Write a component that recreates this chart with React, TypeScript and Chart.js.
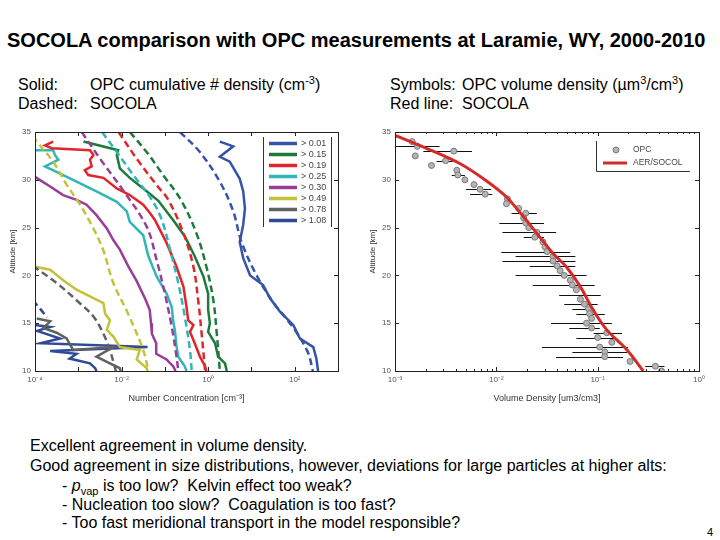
import React, { useEffect, useRef } from "react";
import { Chart, registerables } from "chart.js";

Chart.register(...registerables);

// ---------------- Left panel: number concentration (log10 of cm^-3) ----------------
const sizeLabels = ["> 0.01", "> 0.15", "> 0.19", "> 0.25", "> 0.30", "> 0.49", "> 0.78", "> 1.08"];
const sizeColors = ["#3554a5", "#1d7a3c", "#e0262a", "#33b5b8", "#983e98", "#c3c23a", "#616161", "#2f4b97"];

// OPC (solid) altitude [km] and log10(number concentration)
const opc001Alt = [34.0, 33.5, 32.4, 31.9, 30.1, 28.8, 27.0, 25.3, 23.5, 21.8, 20.0, 19.0, 17.6, 16.2, 14.8, 13.4, 12.5, 11.3, 10.0];
const opc001Log = [0.27, 0.58, 0.27, 0.5, 0.73, 0.81, 0.85, 0.81, 0.73, 0.81, 0.97, 1.27, 1.43, 1.66, 1.97, 2.12, 2.43, 2.5, 2.54];
const opc015Alt = [34.0, 33.1, 32.6, 31.2, 30.2, 28.8, 27.8, 25.8, 24.1, 22.0, 19.9, 18.1, 16.4, 15.0, 14.1, 12.9, 11.5, 10.8, 10.0];
const opc015Log = [-2.88, -2.08, -2.11, -2.04, -1.81, -1.42, -1.15, -0.81, -0.54, -0.31, -0.11, 0.0, 0.0, 0.04, 0.0, 0.16, 0.23, 0.39, 0.43];
const opc019Alt = [34.0, 33.6, 33.3, 33.1, 32.6, 32.1, 31.4, 31.0, 30.5, 30.2, 29.1, 28.4, 27.4, 26.5, 25.8, 23.4, 20.9, 18.8, 16.7, 15.3, 14.8, 14.1, 12.9, 11.5, 10.5, 10.0];
const opc019Log = [-3.58, -3.77, -3.61, -2.73, -2.65, -2.73, -2.69, -2.85, -2.77, -2.42, -2.11, -1.81, -1.5, -1.34, -1.23, -0.96, -0.73, -0.57, -0.5, -0.46, -0.34, -0.42, -0.31, -0.19, -0.07, -0.04];
const opc025Alt = [33.1, 33.1, 32.6, 32.1, 31.4, 30.9, 29.8, 28.8, 27.7, 26.7, 25.6, 24.2, 22.0, 19.9, 18.1, 16.7, 15.3, 14.3, 12.6, 11.5, 10.5, 10.0];
const opc025Log = [-4.05, -3.58, -3.54, -3.46, -3.77, -3.54, -3.04, -2.58, -2.11, -1.88, -1.81, -1.5, -1.38, -1.19, -0.96, -0.84, -0.81, -0.77, -0.73, -0.69, -0.54, -0.5];
const opc030Alt = [30.3, 29.3, 28.4, 27.9, 27.4, 26.3, 24.9, 23.7, 22.7, 21.0, 19.4, 17.5, 16.4, 15.0, 13.9, 12.9, 11.8, 11.2, 10.5, 10.0];
const opc030Log = [-4.0, -3.65, -3.35, -3.04, -2.81, -2.58, -2.34, -2.19, -2.04, -1.85, -1.65, -1.45, -1.35, -1.32, -1.3, -1.2, -1.2, -0.96, -0.81, -0.75];
const opc049Alt = [22.0, 20.9, 20.6, 19.5, 18.5, 17.8, 17.1, 16.0, 15.3, 14.3, 13.6, 12.5, 12.2, 11.2, 10.3, 10.0];
const opc049Log = [-4.02, -4.0, -3.65, -3.35, -3.04, -2.73, -2.42, -2.38, -2.27, -2.34, -2.19, -2.04, -1.58, -1.65, -1.42, -1.4];
const opc078Alt = [15.5, 15.2, 14.5, 14.0, 13.4, 12.2, 12.5, 11.5, 10.8, 10.3, 10.0];
const opc078Log = [-3.96, -3.65, -3.81, -3.5, -3.27, -3.12, -2.19, -2.58, -2.27, -2.04, -2.02];
const opc108Alt = [14.8, 14.6, 14.2, 13.4, 12.9, 12.5, 12.1, 11.8, 11.3, 10.8, 10.3, 10.0];
const opc108Log = [-4.0, -3.65, -3.95, -3.42, -3.88, -1.4, -3.65, -3.04, -3.2, -2.73, -2.61, -2.58];

// SOCOLA (dashed) altitude [km] and log10(number concentration)
const mod001Alt = [35.0, 32.9, 29.8, 26.7, 23.5, 20.0, 17.2, 14.5, 12.0, 10.0];
const mod001Log = [-0.65, -0.19, 0.27, 0.58, 0.77, 1.12, 1.5, 1.97, 2.3, 2.42];
const mod015Alt = [35.0, 32.9, 30.5, 27.9, 24.4, 20.9, 17.4, 13.9, 10.0];
const mod015Log = [-1.81, -1.42, -1.04, -0.63, -0.27, -0.04, 0.12, 0.2, 0.27];
const mod019Alt = [35.0, 32.2, 29.5, 27.9, 24.4, 20.9, 17.4, 13.9, 10.0];
const mod019Log = [-2.07, -1.65, -1.2, -0.92, -0.57, -0.34, -0.23, -0.15, -0.07];
const mod025Alt = [35.0, 32.9, 30.5, 27.9, 25.8, 22.7, 19.2, 15.7, 12.2, 10.0];
const mod025Log = [-2.45, -2.11, -1.73, -1.3, -1.07, -0.88, -0.69, -0.54, -0.42, -0.38];
const mod030Alt = [35.0, 31.9, 29.0, 25.1, 21.6, 18.1, 14.6, 11.5, 10.0];
const mod030Log = [-2.92, -2.45, -1.98, -1.42, -1.19, -1.0, -0.84, -0.73, -0.69];
const mod049Alt = [34.6, 34.0, 31.9, 29.5, 27.4, 24.9, 22.6, 19.2, 16.0, 12.2, 10.0];
const mod049Log = [-4.05, -3.96, -3.58, -3.27, -2.96, -2.65, -2.42, -2.19, -1.85, -1.5, -1.38];
const mod078Alt = [21.0, 20.7, 19.2, 17.4, 15.7, 13.9, 12.2, 10.3, 10.0];
const mod078Log = [-4.05, -3.96, -3.5, -3.04, -2.65, -2.42, -2.27, -2.15, -2.13];
const mod108Alt = [17.4, 16.5, 15.6];
const mod108Log = [-4.05, -3.88, -3.72];

const leftTickExps = [-4, -3, -2, -1, 0, 1, 2, 3];
const leftLabelExps = [-4, -2, 0, 2];

// ---------------- Right panel: volume density (log10 of um3/cm3) ----------------
const opcVolAlt = [34.0, 33.5, 33.0, 32.5, 32.0, 31.5, 31.0, 30.5, 30.0, 29.5, 29.0, 28.5, 28.0, 27.5, 27.0, 26.5, 26.0, 25.5, 25.0, 24.5, 24.0, 23.5, 23.0, 22.5, 22.0, 21.5, 21.0, 20.5, 20.0, 19.5, 19.0, 18.5, 17.5, 17.0, 16.5, 16.0, 15.5, 15.0, 14.5, 14.0, 13.5, 13.0, 12.5, 12.0, 11.5, 11.0, 10.5, 10.0];
const opcVolLog = [-2.83, -2.78, -2.42, -2.8, -2.5, -2.64, -2.39, -2.38, -2.31, -2.22, -2.16, -2.11, -1.89, -1.9, -1.78, -1.71, -1.73, -1.71, -1.68, -1.6, -1.62, -1.54, -1.52, -1.5, -1.44, -1.44, -1.4, -1.37, -1.33, -1.27, -1.25, -1.21, -1.17, -1.13, -1.09, -1.08, -1.06, -1.11, -1.06, -0.91, -1.0, -0.86, -0.98, -0.93, -0.93, -0.68, -0.43, -0.37];
const errAlt = [33.5, 33.0, 32.0, 30.5, 29.0, 28.5, 26.5, 25.5, 24.5, 24.0, 22.5, 22.0, 21.5, 21.0, 20.0, 19.0, 18.0, 17.0, 16.5, 16.0, 15.0, 14.5, 14.0, 13.5, 12.5, 12.0, 11.5, 10.5];
const errLoLog = [-3.0, -2.72, -2.59, -2.44, -2.3, -2.26, -1.85, -1.97, -1.94, -1.73, -1.95, -1.81, -1.94, -1.67, -1.81, -1.64, -1.38, -1.33, -1.25, -1.21, -1.46, -1.28, -1.04, -1.21, -1.55, -1.25, -1.41, -0.53];
const errHiLog = [-2.56, -2.24, -2.43, -2.31, -2.05, -2.04, -1.6, -1.53, -1.41, -1.53, -1.27, -1.22, -1.22, -1.22, -1.11, -1.03, -0.97, -1.0, -1.03, -0.93, -0.86, -0.98, -0.76, -0.81, -0.7, -0.71, -0.75, -0.34];
const socolVolAlt = [34.65, 33.3, 31.7, 29.9, 28.2, 26.1, 24.4, 22.3, 20.9, 18.8, 16.3, 14.3, 12.2, 10.0];
const socolVolLog = [-3.0, -2.69, -2.36, -2.1, -1.9, -1.73, -1.6, -1.44, -1.31, -1.17, -1.04, -0.91, -0.71, -0.55];

const rightTickExps = [-3, -2, -1, 0];
const altTicks = [10, 15, 20, 25, 30, 35];

const FONT = "'Liberation Sans', Arial, sans-serif";
const sup: Record<string, string> = { "-": "\u207B", "0": "\u2070", "1": "\u00B9", "2": "\u00B2", "3": "\u00B3", "4": "\u2074" };
const powLabel = (e: number) => "10" + String(e).split("").map((c) => sup[c] || c).join("");

const toPts = (alt: number[], lg: number[]) => alt.map((a, i) => ({ x: Math.pow(10, lg[i]), y: a }));

function framePlugin(tickExps: number[], minor: boolean) {
  return {
    id: "frame",
    afterDatasetsDraw(chart: any) {
      const { ctx, chartArea: a, scales } = chart;
      const xs = scales.x, ys = scales.y;
      ctx.save();
      ctx.strokeStyle = "#222";
      ctx.lineWidth = 1;
      ctx.beginPath();
      const seg = (x1: number, y1: number, x2: number, y2: number) => { ctx.moveTo(x1, y1); ctx.lineTo(x2, y2); };
      altTicks.forEach((t) => {
        const y = Math.round(ys.getPixelForValue(t)) + 0.5;
        seg(a.left, y, a.left + 4, y);
        seg(a.right, y, a.right - 4, y);
      });
      tickExps.forEach((e) => {
        const x = Math.round(xs.getPixelForValue(Math.pow(10, e))) + 0.5;
        seg(x, a.bottom, x, a.bottom - 4);
        seg(x, a.top, x, a.top + 4);
        if (minor && e < tickExps[tickExps.length - 1]) {
          for (let m = 2; m <= 9; m++) {
            const xm = Math.round(xs.getPixelForValue(m * Math.pow(10, e))) + 0.5;
            seg(xm, a.bottom, xm, a.bottom - 2);
            seg(xm, a.top, xm, a.top + 2);
          }
        }
      });
      ctx.stroke();
      ctx.strokeRect(Math.round(a.left) + 0.5, Math.round(a.top) + 0.5, Math.round(a.right - a.left), Math.round(a.bottom - a.top));
      ctx.restore();
    },
  };
}

const leftLegendPlugin = {
  id: "leftLegend",
  afterDraw(chart: any) {
    const ctx = chart.ctx;
    ctx.save();
    ctx.strokeStyle = "#333";
    ctx.lineWidth = 1;
    ctx.beginPath();
    ctx.moveTo(263.5, 17); ctx.lineTo(263.5, 107);
    ctx.moveTo(331.5, 17); ctx.lineTo(331.5, 107);
    ctx.stroke();
    ctx.font = "9px " + FONT;
    ctx.textBaseline = "middle";
    ctx.fillStyle = "#444";
    sizeLabels.forEach((lab, i) => {
      const y = 23.5 + i * 11;
      ctx.strokeStyle = sizeColors[i];
      ctx.lineWidth = 3.5;
      ctx.beginPath();
      ctx.moveTo(269, y); ctx.lineTo(297, y);
      ctx.stroke();
      ctx.fillText(lab, 301, y);
    });
    ctx.restore();
  },
};

const errorBarPlugin = {
  id: "errBars",
  beforeDatasetsDraw(chart: any) {
    const { ctx, chartArea: a, scales } = chart;
    ctx.save();
    ctx.beginPath();
    ctx.rect(a.left, a.top, a.right - a.left, a.bottom - a.top);
    ctx.clip();
    ctx.strokeStyle = "#111";
    ctx.lineWidth = 1;
    ctx.beginPath();
    errAlt.forEach((alt, i) => {
      const y = Math.round(scales.y.getPixelForValue(alt)) + 0.5;
      ctx.moveTo(scales.x.getPixelForValue(Math.pow(10, errLoLog[i])), y);
      ctx.lineTo(scales.x.getPixelForValue(Math.pow(10, errHiLog[i])), y);
    });
    ctx.stroke();
    ctx.restore();
  },
};

const rightLegendPlugin = {
  id: "rightLegend",
  afterDraw(chart: any) {
    const ctx = chart.ctx;
    ctx.save();
    ctx.strokeStyle = "#333";
    ctx.lineWidth = 1;
    ctx.beginPath();
    ctx.moveTo(236.5, 21); ctx.lineTo(236.5, 51.5); ctx.lineTo(330, 51.5);
    ctx.stroke();
    ctx.fillStyle = "#b4b4b4";
    ctx.strokeStyle = "#7a7a7a";
    ctx.beginPath();
    ctx.arc(256, 30, 3, 0, Math.PI * 2);
    ctx.fill();
    ctx.stroke();
    ctx.strokeStyle = "#d42a2a";
    ctx.lineWidth = 3;
    ctx.beginPath();
    ctx.moveTo(243, 43); ctx.lineTo(267, 43);
    ctx.stroke();
    ctx.font = "8.5px " + FONT;
    ctx.fillStyle = "#444";
    ctx.textBaseline = "middle";
    ctx.fillText("OPC", 273, 30);
    ctx.fillText("AER/SOCOL", 273, 43);
    ctx.restore();
  },
};

function baseScales(xmin: number, xmax: number, tickExps: number[], labelExps: number[], xTitle: string) {
  return {
    x: {
      type: "logarithmic" as const,
      min: xmin,
      max: xmax,
      afterBuildTicks: (s: any) => { s.ticks = tickExps.map((e) => ({ value: Math.pow(10, e) })); },
      afterFit: (s: any) => { s.height = 39; },
      grid: { display: false, drawTicks: false },
      border: { display: false },
      ticks: {
        autoSkip: false,
        maxRotation: 0,
        padding: 4,
        color: "#555",
        font: { family: FONT, size: 8 },
        callback: (v: any) => {
          const e = Math.round(Math.log10(Number(v)));
          return labelExps.includes(e) ? powLabel(e) : "";
        },
      },
      title: { display: true, text: xTitle, color: "#333", font: { family: FONT, size: 9 }, padding: { top: 0, bottom: 6 } },
    },
    y: {
      type: "linear" as const,
      min: 10,
      max: 35,
      afterBuildTicks: (s: any) => { s.ticks = altTicks.map((v) => ({ value: v })); },
      afterFit: (s: any) => { s.width = 35; },
      grid: { display: false, drawTicks: false },
      border: { display: false },
      ticks: { padding: 4, color: "#555", font: { family: FONT, size: 8 } },
      title: { display: true, text: "Altitude [km]", color: "#333", font: { family: FONT, size: 8 }, padding: { top: 8, bottom: 0 } },
    },
  };
}

function LeftChart() {
  const ref = useRef<HTMLCanvasElement>(null);
  useEffect(() => {
    const solid = [
      [opc001Alt, opc001Log], [opc015Alt, opc015Log], [opc019Alt, opc019Log], [opc025Alt, opc025Log],
      [opc030Alt, opc030Log], [opc049Alt, opc049Log], [opc078Alt, opc078Log], [opc108Alt, opc108Log],
    ];
    const dashed = [
      [mod001Alt, mod001Log], [mod015Alt, mod015Log], [mod019Alt, mod019Log], [mod025Alt, mod025Log],
      [mod030Alt, mod030Log], [mod049Alt, mod049Log], [mod078Alt, mod078Log], [mod108Alt, mod108Log],
    ];
    const datasets: any[] = [];
    dashed.forEach(([alt, lg], i) => {
      datasets.push({
        label: "SOCOLA " + sizeLabels[i],
        data: toPts(alt, lg),
        borderColor: sizeColors[i],
        borderWidth: 2.5,
        borderDash: [7, 4],
        pointRadius: 0,
        tension: 0.35,
        fill: false,
      });
    });
    solid.forEach(([alt, lg], i) => {
      datasets.push({
        label: "OPC " + sizeLabels[i],
        data: toPts(alt, lg),
        borderColor: sizeColors[i],
        borderWidth: 2.5,
        pointRadius: 0,
        tension: 0,
        fill: false,
      });
    });
    const chart = new Chart(ref.current!, {
      type: "line",
      data: { datasets },
      options: {
        animation: false,
        responsive: false,
        layout: { padding: { left: 0, right: 22, top: 12, bottom: 0 } },
        plugins: { legend: { display: false }, tooltip: { enabled: false } },
        scales: baseScales(1e-4, 1e3, leftTickExps, leftLabelExps, "Number Concentration [cm\u207B\u00B3]") as any,
      },
      plugins: [framePlugin(leftTickExps, false), leftLegendPlugin],
    });
    return () => chart.destroy();
  }, []);
  return <canvas ref={ref} width={360} height={290} style={{ position: "absolute", left: 0, top: 120, width: 360, height: 290 }} />;
}

function RightChart() {
  const ref = useRef<HTMLCanvasElement>(null);
  useEffect(() => {
    const chart = new Chart(ref.current!, {
      type: "line",
      data: {
        datasets: [
          {
            label: "AER/SOCOL",
            data: toPts(socolVolAlt, socolVolLog),
            borderColor: "#d42a2a",
            borderWidth: 3,
            pointRadius: 0,
            tension: 0.3,
            fill: false,
          },
          {
            label: "OPC",
            data: toPts(opcVolAlt, opcVolLog),
            showLine: false,
            pointRadius: 3,
            pointBackgroundColor: "#b4b4b4",
            pointBorderColor: "#7a7a7a",
            pointBorderWidth: 1,
          },
        ],
      },
      options: {
        animation: false,
        responsive: false,
        layout: { padding: { left: 0, right: 21, top: 12, bottom: 0 } },
        plugins: { legend: { display: false }, tooltip: { enabled: false } },
        scales: baseScales(1e-3, 1, rightTickExps, rightTickExps, "Volume Density [um3/cm3]") as any,
      },
      plugins: [errorBarPlugin, framePlugin(rightTickExps, true), rightLegendPlugin],
    });
    return () => chart.destroy();
  }, []);
  return <canvas ref={ref} width={360} height={290} style={{ position: "absolute", left: 360, top: 120, width: 360, height: 290 }} />;
}

const abs = (left: number, top: number, extra: React.CSSProperties = {}): React.CSSProperties => ({
  position: "absolute",
  left,
  top,
  whiteSpace: "nowrap",
  fontFamily: FONT,
  color: "#000",
  ...extra,
});

export default function App() {
  const sub = { fontSize: 16, lineHeight: "19px" };
  const body = { fontSize: 16, lineHeight: "19px" };
  const supStyle: React.CSSProperties = { fontSize: 11, verticalAlign: "super", lineHeight: 0 };
  return (
    <div style={{ position: "absolute", left: 0, top: 0, width: 720, height: 540, background: "#fff", overflow: "hidden" }}>
      <div style={abs(7, 28, { fontSize: 20, fontWeight: "bold", lineHeight: "24px" })}>
        SOCOLA comparison with OPC measurements at Laramie, WY, 2000-2010
      </div>
      <div style={abs(18, 75, sub)}>Solid:</div>
      <div style={abs(90, 75, sub)}>
        OPC cumulative # density (cm<span style={supStyle}>-3</span>)
      </div>
      <div style={abs(18, 94, sub)}>Dashed:</div>
      <div style={abs(90, 94, sub)}>SOCOLA</div>
      <div style={abs(390, 75, sub)}>Symbols:</div>
      <div style={abs(462, 75, sub)}>
        OPC volume density (µm<span style={supStyle}>3</span>/cm<span style={supStyle}>3</span>)
      </div>
      <div style={abs(390, 94, sub)}>Red line:</div>
      <div style={abs(462, 94, sub)}>SOCOLA</div>
      <LeftChart />
      <RightChart />
      <div style={abs(30, 436, body)}>Excellent agreement in volume density.</div>
      <div style={abs(30, 456, body)}>
        Good agreement in size distributions, however, deviations for large particles at higher alts:
      </div>
      <div style={abs(62, 476, body)}>
        - <i>p</i>
        <span style={{ fontSize: 11, verticalAlign: "sub", lineHeight: 0 }}>vap</span> is too low?&nbsp; Kelvin effect too weak?
      </div>
      <div style={abs(62, 495, body)}>- Nucleation too slow?&nbsp; Coagulation is too fast?</div>
      <div style={abs(62, 513, body)}>- Too fast meridional transport in the model responsible?</div>
      <div style={abs(707, 525, { fontSize: 11, lineHeight: "14px" })}>4</div>
    </div>
  );
}
